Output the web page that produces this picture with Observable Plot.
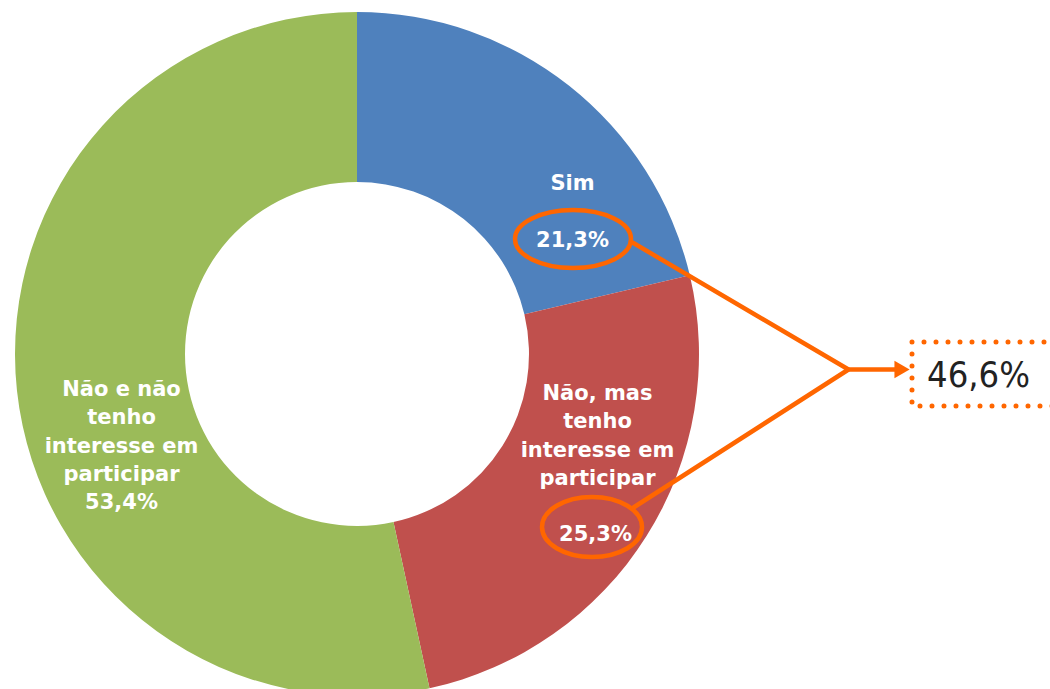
<!DOCTYPE html>
<html>
<head>
<meta charset="utf-8">
<script src="https://cdn.jsdelivr.net/npm/d3@7"></script>
<script src="https://cdn.jsdelivr.net/npm/@observablehq/plot@0.6"></script>
<style>
  html, body { margin: 0; padding: 0; background: #ffffff; }
  #chart svg { display: block; }
</style>
</head>
<body>
<div id="chart"></div>
<script>
// ---- Data ----
const categories = ["Sim", "Não, mas tenho interesse em participar", "Não e não tenho interesse em participar"];
const values = [21.3, 25.3, 53.4];
const valueLabels = ["21,3%", "25,3%", "53,4%"];
const combinedLabel = "46,6%";
const sliceColors = ["#4F81BD", "#C0504D", "#9BBB59"];

// ---- Layout (pixel-like coordinates) ----
const donut = {cx: 357, cy: 354, outer: 342, inner: 172};
const orange = "#FF6600";

const slices = categories.map((c, i) => ({category: c, value: values[i]}));

// Donut slices rendered through Plot's x/y/color scales
function donutMark(index, scales) {
  const cx = scales.x(donut.cx), cy = scales.y(donut.cy);
  const R = Math.abs(scales.x(donut.cx + donut.outer) - cx);
  const r = Math.abs(scales.x(donut.cx + donut.inner) - cx);
  const arcs = d3.pie().sort(null).value(d => d.value)(slices);
  const arc = d3.arc().innerRadius(r).outerRadius(R);
  const g = d3.create("svg:g").attr("transform", `translate(${cx},${cy})`);
  g.selectAll("path").data(arcs).join("path")
    .attr("d", arc)
    .attr("fill", d => scales.color(d.data.category));
  return g.node();
}

// Highlight ellipses
const ellipses = [
  {x: 573, y: 239, rx: 58, ry: 29},
  {x: 592, y: 527, rx: 50, ry: 30}
];
function ellipseMark(index, scales) {
  const g = d3.create("svg:g");
  g.selectAll("ellipse").data(ellipses).join("ellipse")
    .attr("cx", d => scales.x(d.x))
    .attr("cy", d => scales.y(d.y))
    .attr("rx", d => Math.abs(scales.x(d.x + d.rx) - scales.x(d.x)))
    .attr("ry", d => Math.abs(scales.y(d.y + d.ry) - scales.y(d.y)))
    .attr("fill", "none")
    .attr("stroke", orange)
    .attr("stroke-width", 4.5);
  return g.node();
}

const connector = [
  {x: 632, y: 242},
  {x: 848, y: 369},
  {x: 633, y: 507}
];

const labelFont = "'DejaVu Sans', Tahoma, Verdana, sans-serif";

const chart = Plot.plot({
  width: 1050,
  height: 689,
  margin: 0,
  x: {domain: [0, 1050], range: [0, 1050], axis: null},
  y: {domain: [0, 689], range: [0, 689], axis: null},
  color: {domain: categories, range: sliceColors},
  style: {background: "#ffffff"},
  marks: [
    // invisible mark to instantiate the color scale
    Plot.dot(categories, {x: donut.cx, y: donut.cy, fill: d => d, r: 1, fillOpacity: 0}),
    donutMark,
    // Category labels
    Plot.text([categories[0]], {x: 572, y: 183, text: d => d, fill: "white", fontWeight: "bold", fontSize: 21, fontFamily: labelFont}),
    Plot.text([valueLabels[0]], {x: 572, y: 240, text: d => d, fill: "white", fontWeight: "bold", fontSize: 21, fontFamily: labelFont}),
    Plot.text([categories[1]], {x: 597, y: 433, text: () => "Não, mas\ntenho\ninteresse em\nparticipar", lineHeight: 1.35, fill: "white", fontWeight: "bold", fontSize: 21, fontFamily: labelFont}),
    Plot.text([valueLabels[1]], {x: 595, y: 534, text: d => d, fill: "white", fontWeight: "bold", fontSize: 21, fontFamily: labelFont}),
    Plot.text([categories[2]], {x: 121, y: 443, text: (d) => "Não e não\ntenho\ninteresse em\nparticipar\n" + valueLabels[2], lineHeight: 1.35, fill: "white", fontWeight: "bold", fontSize: 21, fontFamily: labelFont}),
    ellipseMark,
    // Connector lines
    Plot.line(connector, {x: "x", y: "y", stroke: orange, strokeWidth: 4.5, strokeLinejoin: "miter"}),
    Plot.link([{x1: 846, y1: 369, x2: 896, y2: 369}], {x1: "x1", y1: "y1", x2: "x2", y2: "y2", stroke: orange, strokeWidth: 4.5}),
    Plot.dot([{x: 899, y: 369}], {x: "x", y: "y", symbol: "triangle", rotate: 90, r: 6.5, fill: orange, stroke: "none"}),
    // Dotted box
    Plot.rect([{x1: 912, x2: 1070, y1: 342, y2: 406}], {x1: "x1", x2: "x2", y1: "y1", y2: "y2", fill: "none", stroke: orange, strokeWidth: 5, strokeDasharray: "0 12", strokeLinecap: "round"}),
    Plot.text([combinedLabel], {x: 978, y: 375, text: d => d, fill: "#222222", fontSize: 36, fontFamily: "'DejaVu Sans Condensed', 'Liberation Sans Narrow', 'DejaVu Sans', sans-serif"})
  ]
});

document.getElementById("chart").appendChild(chart);
</script>
</body>
</html>
